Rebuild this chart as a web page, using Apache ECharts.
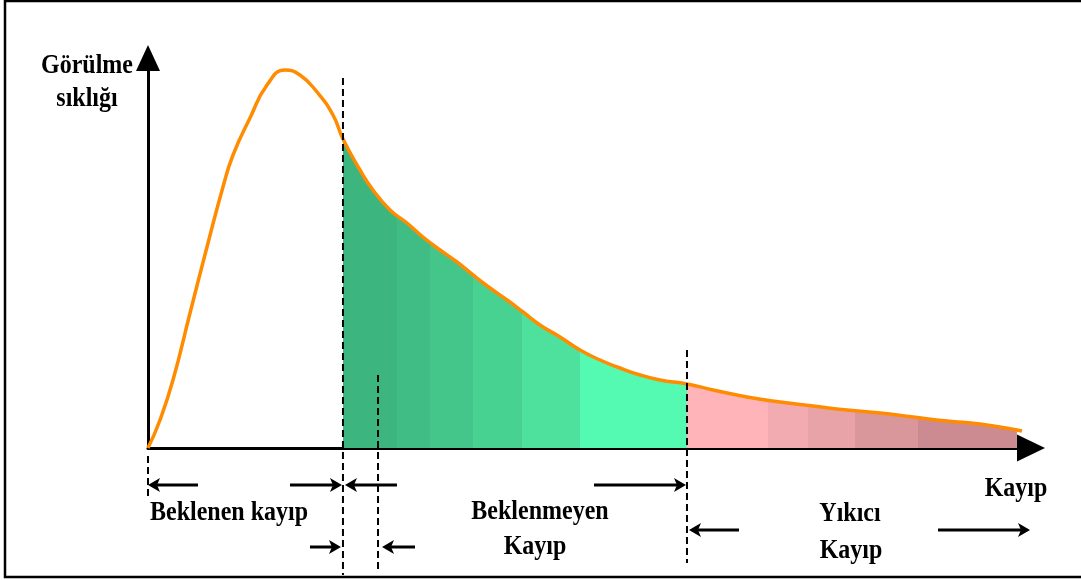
<!DOCTYPE html>
<html>
<head>
<meta charset="utf-8">
<script src="https://cdn.jsdelivr.net/npm/echarts@6/dist/echarts.min.js"></script>
<style>
html,body{margin:0;padding:0;background:#fff;}
#chart{width:1081px;height:580px;}
</style>
</head>
<body>
<div id="chart"></div>
<script>
// Loss values (x) and frequency of occurrence (y)
const lossX = [0, 1.36, 2.83, 4.76, 6.68, 8.49, 9.63, 11.55, 13.48, 15.52, 17.21, 19.14, 20.95, 22.08, 24.01, 25.48, 27.41, 29.33, 31.14, 33.07, 34.99, 36.81, 38.73, 40.66, 42.47, 44.39, 46.66, 48.92, 51.19, 53.45, 55.72, 57.98, 61.04, 63.99, 67.84, 71.57, 75.31, 79.16, 82.90, 86.64, 90.49, 94.22, 98.41, 98.98];
const frequency = [0, 7.18, 17.44, 34.62, 51.54, 66.92, 75.13, 84.62, 93.08, 96.92, 95.64, 91.28, 85.38, 79.23, 71.28, 66.15, 61.03, 57.69, 54.10, 50.77, 47.69, 44.36, 41.03, 37.95, 34.87, 31.54, 28.46, 25.13, 22.56, 20.51, 18.72, 17.44, 16.41, 14.87, 13.08, 11.79, 10.77, 9.74, 8.97, 7.95, 6.92, 6.15, 4.62, 4.36];
// thresholds: expected-loss end, second marker, unexpected-loss end
const thresholds = [22.08, 26.05, 61.04];
const catastrophicEnd = 98.41;
const axisNames = ['Kayıp', 'Görülme', 'sıklığı'];
const regionLabels = ['Beklenen kayıp', 'Beklenmeyen', 'Kayıp', 'Yıkıcı', 'Kayıp'];

const greenBands = ['#3db57f', '#40bd84', '#44c68a', '#48d292', '#4de19d', '#54fab1'];
const greenStops = [0, 0.157, 0.253, 0.378, 0.52, 0.689, 1];
const pinkBands = ['#ffb4ba', '#f2abb0', '#e8a3a8', '#d9979c', '#cb8b90'];
const pinkStops = [0, 0.245, 0.367, 0.509, 0.70, 1];

function steps(colors, stops) {
  const cs = [];
  colors.forEach((c, i) => {
    cs.push({ offset: stops[i], color: c });
    cs.push({ offset: stops[i + 1], color: c });
  });
  return new echarts.graphic.LinearGradient(0, 0, 1, 0, cs);
}

const curve = lossX.map((x, i) => [x, frequency[i]]);
const greenData = curve.filter(p => p[0] >= thresholds[0] && p[0] <= thresholds[2]);
const pinkData = curve.filter(p => p[0] >= thresholds[2] && p[0] <= catastrophicEnd);

const chart = echarts.init(document.getElementById('chart'), null, { renderer: 'canvas' });
const FONT = 'bold 24px "Liberation Serif", "Times New Roman", serif';
const SMOOTH = 0.5;

chart.setOption({
  animation: false,
  backgroundColor: '#ffffff',
  grid: { left: 148, right: 50, top: 58, bottom: 132 },
  xAxis: {
    type: 'value', min: 0, max: 100,
    axisLine: { show: true, onZero: false, symbol: ['none', 'triangle'], symbolSize: [27, 28],
      lineStyle: { color: '#000', width: 3 } },
    axisTick: { show: false }, axisLabel: { show: false }, splitLine: { show: false }
  },
  yAxis: {
    type: 'value', min: 0, max: 100,
    axisLine: { show: true, onZero: false, symbol: ['none', 'triangle'], symbolSize: [24, 26],
      lineStyle: { color: '#000', width: 3 } },
    axisTick: { show: false }, axisLabel: { show: false }, splitLine: { show: false }
  },
  series: [
    { type: 'line', data: greenData, smooth: SMOOTH, symbol: 'none', z: 2,
      lineStyle: { width: 0, opacity: 0 }, areaStyle: { color: steps(greenBands, greenStops), opacity: 1 } },
    { type: 'line', data: pinkData, smooth: SMOOTH, symbol: 'none', z: 2,
      lineStyle: { width: 0, opacity: 0 }, areaStyle: { color: steps(pinkBands, pinkStops), opacity: 1 } },
    { type: 'line', data: curve, smooth: SMOOTH, symbol: 'none', z: 3,
      lineStyle: { color: '#ff8c00', width: 3.5 } }
  ]
});

function px(x, y) { return chart.convertToPixel({ gridIndex: 0 }, [x, y]); }

const g = [];
function text(t, x, y) {
  g.push({ type: 'text', x: x, y: y, z: 10, scaleY: 1.12,
    style: { text: t, font: FONT, fill: '#000', align: 'center', verticalAlign: 'middle',
      textAlign: 'center', textVerticalAlign: 'middle' } });
}
function dashed(x, y1, y2) {
  g.push({ type: 'line', z: 9, shape: { x1: x, y1: y1, x2: x, y2: y2 },
    style: { stroke: '#000', lineWidth: 2, lineDash: [7, 4] } });
}
function arrow(tail, tip, y) {
  const d = tip > tail ? 1 : -1;
  const L = 12, W = 7;
  g.push({ type: 'line', z: 9, shape: { x1: tail, y1: y, x2: tip - d * L * 0.6, y2: y },
    style: { stroke: '#000', lineWidth: 3 } });
  g.push({ type: 'polygon', z: 9, shape: { points: [[tip, y], [tip - d * L, y - W], [tip - d * L * 0.75, y], [tip - d * L, y + W]] },
    style: { fill: '#000' } });
}

const o = px(0, 0);
const t1 = px(thresholds[0], 94.9);
const t2 = px(thresholds[1], 18.7);
const t3 = px(thresholds[2], 25.1);
const endP = px(100, 0);

// frame
g.push({ type: 'rect', z: 0, shape: { x: 5, y: 1, width: 1100, height: 576 },
  style: { fill: 'none', stroke: '#000', lineWidth: 2.5 } });

dashed(o[0], o[1] + 8, o[1] + 52);
dashed(t1[0], t1[1], 575);
dashed(t2[0], t2[1], 572);
dashed(t3[0], t3[1], 563);

arrow(o[0] + 50, o[0], 485);
arrow(t1[0] - 53, t1[0] - 1, 485);
arrow(t1[0] + 54, t1[0] + 2, 485);
arrow(t3[0] - 93, t3[0] - 1, 485);
arrow(t1[0] - 33, t1[0] - 2, 547);
arrow(t2[0] + 37, t2[0] + 4, 547);
arrow(t3[0] + 52, t3[0] + 2, 530);
arrow(endP[0] - 93, endP[0] - 1, 530);

text(axisNames[0], endP[0] - 15, 489);
text(axisNames[1], 87, 66);
text(axisNames[2], 87, 99);
text(regionLabels[0], 229, 513);
text(regionLabels[1], 540, 512);
text(regionLabels[2], 535, 547);
text(regionLabels[3], 850, 514);
text(regionLabels[4], 851, 551);

chart.setOption({ graphic: g });
</script>
</body>
</html>
